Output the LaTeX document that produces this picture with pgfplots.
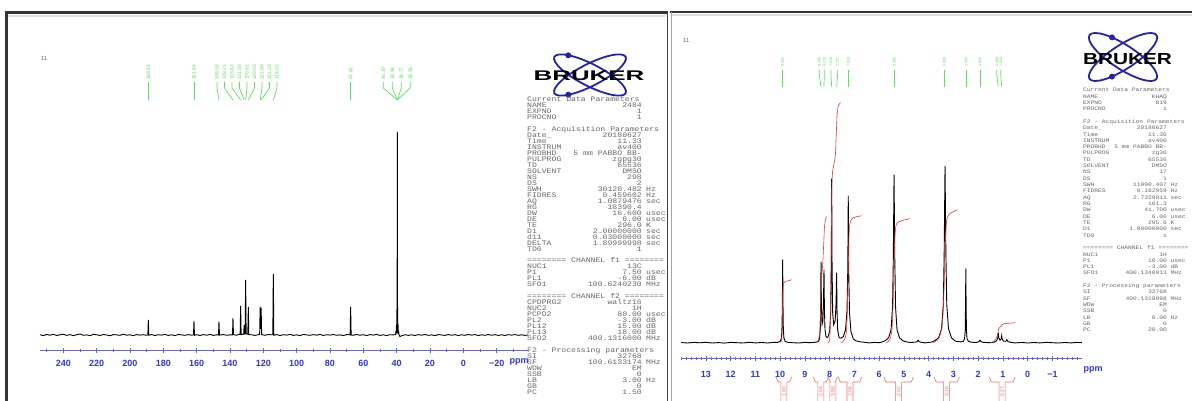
\documentclass[border=0pt]{standalone}
\usepackage{fontspec}
\setmainfont{Liberation Sans}
\newfontfamily\pmono{Liberation Mono}[FakeStretch=1.18]
\usepackage{graphicx}
\usepackage{pgfplots}
\pgfplotsset{compat=1.18}
\definecolor{axblue}{RGB}{95,100,235}
\definecolor{tkblue}{RGB}{45,55,230}
\definecolor{lgreen}{RGB}{95,225,95}
\definecolor{intred}{RGB}{235,55,55}
\definecolor{lblred}{RGB}{250,105,105}
\definecolor{logoblue}{RGB}{35,35,175}
\definecolor{ptext}{RGB}{105,105,105}
\pgfplotsset{nmr/.style={scale only axis, clip=false, axis x line=bottom, axis y line=none,
  x dir=reverse, x axis line style={-, draw=axblue, line width=0.7pt},
  tick style={draw=axblue, line width=0.5pt}, tick align=center,
  major tick length=5pt, minor tick length=3pt,
  xticklabel style={font=\fontsize{9}{9}\selectfont\bfseries, text=tkblue, anchor=center},
  scaled x ticks=false}}
\tikzset{pl/.style={anchor=base west, inner sep=0pt}, pr/.style={anchor=base east, inner sep=0pt},
  glab/.style={rotate=90, anchor=west, inner sep=0pt, text=lgreen}}
\newcommand\Lp[4]{\node[pl] at (527,{102+#1*5.96}) {#2};\node[pr] at (642,{102+#1*5.96}) {#3};\node[pl] at (646,{102+#1*5.96}) {#4};}
\newcommand\Lh[2]{\node[pl] at (527,{102+#1*5.96}) {#2};}
\newcommand\Rp[4]{\node[pl] at (1083,{91.8+#1*6.316}) {#2};\node[pr] at (1167,{91.8+#1*6.316}) {#3};\node[pl] at (1170.5,{91.8+#1*6.316}) {#4};}
\newcommand\Rh[2]{\node[pl] at (1083,{91.8+#1*6.316}) {#2};}
\newcommand\ibr[3]{%
  \pgfmathsetmacro\xc{(#1+#2)/2}%
  \draw[lblred, line width=0.6pt] (#1,377) -- (#1+2,382) -- (\xc-3,382) -- (\xc-3,401);
  \draw[lblred, line width=0.6pt] (#2,377) -- (#2-2,382) -- (\xc+3,382) -- (\xc+3,401);
  \node[rotate=90, text=lblred, font=\fontsize{5}{5}\selectfont, inner sep=0pt] at (\xc,392) {#3};}
\begin{document}
\begin{tikzpicture}[x=1pt,y=1pt]
\path[use as bounding box, fill=white] (0,0) rectangle (1192,-401);

% ---------------- left spectrum (13C) ----------------
\begin{axis}[nmr, at={(40pt,-350pt)}, anchor=south west, width=488.3pt, height=310pt,
  xmin=-39, xmax=254, ymin=-15, ymax=295,
  xtick={-20,0,...,240}, xticklabels={−20,0,20,40,60,80,100,120,140,160,180,200,220,240},
  minor xtick={-30,-10,...,250}, xticklabel style={yshift=-11pt}]
\addplot[black, line width=0.9pt] coordinates {
(254,0.3)(252,-0.6)(250,0.5)(248,-0.2)(246,0.7)(244,-0.5)(242,0.2)(240,0.8)(238,-0.4)(236,0.4)
(234,-0.7)(232,0.3)(230,0.9)(228,-0.2)(226,0.1)(224,-0.6)(222,0.6)(220,0.2)(218,-0.5)(216,0.5)
(214,0.0)(212,-0.7)(210,0.4)(208,0.1)(206,-0.3)(204,0.8)(202,-0.2)(200,0.2)(198,-0.6)(196,0.4)
(194,-0.1)(192,0.3)(190.5,-0.2)(189.3,0.1)(189.0,15)(188.7,-0.2)(187,0.4)(185,-0.5)(183,0.3)
(181,-0.1)(179,0.6)(177,-0.4)(175,0.2)(173,-0.6)(171,0.5)(169,0.1)(167,-0.3)(165,0.4)(163,-0.2)
(161.9,0.2)(161.6,14)(161.3,-0.3)(160,0.3)(158,-0.5)(156,0.4)(154,-0.2)(152,0.6)(150,-0.4)(148,0.2)
(146.9,0)(146.6,13.5)(146.3,-0.2)(144,0.5)(142,-0.3)(140,0.2)(138.5,0.1)(138.2,17)(137.9,0.3)
(136,-0.2)(134.5,0.6)(133.9,0.5)(133.6,29)(133.3,0.4)(131.8,0.8)(131.5,10)(131.2,1)(130.9,1)
(130.6,55)(130.3,1)(129.3,0.8)(129.0,28)(128.7,0.4)(127,0.2)(125,-0.4)(123,0.3)(122.2,0.5)
(121.9,28)(121.6,6)(121.3,27)(121.0,0.4)(119,-0.3)(117,0.5)(115,0.2)(114.3,0.3)(114.0,61)
(113.7,-0.2)(112,0.4)(110,-0.5)(108,0.3)(106,-0.1)(104,0.6)(102,-0.4)(100,0.2)(98,-0.6)(96,0.5)
(94,0.1)(92,-0.3)(90,0.4)(88,-0.2)(86,0.6)(84,-0.5)(82,0.3)(80,-0.1)(78,0.5)(76,-0.3)(74,0.2)
(72,-0.6)(70,0.4)(68,0.1)(67.9,0.2)(67.6,28)(67.3,0)(66,-0.3)(64,0.5)(62,-0.2)(60,0.3)(58,-0.5)
(56,0.4)(54,-0.1)(52,0.6)(50,-0.4)(48,0.2)(46,-0.6)(44,0.3)(42,0.1)(41,0.4)(40.6,0.5)(40.4,4)
(40.25,1)(40.1,10)(39.95,2)(39.8,28)(39.7,5)(39.6,203)(39.5,5)(39.4,28)(39.25,2)(39.1,10)
(38.95,1)(38.8,4)(38.6,0.5)(38,-1.5)(37,-0.8)(35,0.3)(33,-0.4)(31,0.2)(29,-0.5)(27,0.4)(25,-0.2)
(23,0.5)(21,-0.3)(19,0.1)(17,-0.6)(15,0.4)(13,0)(11,-0.4)(9,0.5)(7,-0.2)(5,0.3)(3,-0.5)(1,0.2)
(-1,-0.3)(-3,0.5)(-5,-0.1)(-7,0.4)(-9,-0.5)(-11,0.2)(-13,-0.3)(-15,0.5)(-17,-0.2)(-19,0.3)
(-21,-0.4)(-23,0.2)(-25,-0.5)(-27,0.3)(-29,-0.1)(-31,0.4)(-33,-0.3)(-35,0.2)(-37,-0.4)(-39,0.1)};
% peak label leaders
\addplot[lgreen, line width=0.7pt] coordinates {(189.0,253)(189.0,235)};
\addplot[lgreen, line width=0.7pt] coordinates {(161.6,253)(161.6,235)};
\addplot[lgreen, line width=0.7pt] coordinates {(67.6,253)(67.6,235)};
\addplot[lgreen, line width=0.7pt] coordinates {(147.8,253)(147.8,247)(146.6,235)};
\addplot[lgreen, line width=0.7pt] coordinates {(143.3,253)(143.3,247)(138.2,235)};
\addplot[lgreen, line width=0.7pt] coordinates {(138.8,253)(138.8,247)(133.6,235)};
\addplot[lgreen, line width=0.7pt] coordinates {(134.3,253)(134.3,247)(131.5,235)};
\addplot[lgreen, line width=0.7pt] coordinates {(129.8,253)(129.8,247)(130.6,235)};
\addplot[lgreen, line width=0.7pt] coordinates {(125.3,253)(125.3,247)(129.0,235)};
\addplot[lgreen, line width=0.7pt] coordinates {(120.8,253)(120.8,247)(121.9,235)};
\addplot[lgreen, line width=0.7pt] coordinates {(116.3,253)(116.3,247)(121.3,235)};
\addplot[lgreen, line width=0.7pt] coordinates {(111.8,253)(111.8,247)(114.0,235)};
\addplot[lgreen, line width=0.7pt] coordinates {(48.0,253)(48.0,247)(39.6,235)};
\addplot[lgreen, line width=0.7pt] coordinates {(42.6,253)(42.6,247)(39.6,235)};
\addplot[lgreen, line width=0.7pt] coordinates {(37.2,253)(37.2,247)(39.6,235)};
\addplot[lgreen, line width=0.7pt] coordinates {(31.8,253)(31.8,247)(39.6,235)};
\begin{scope}[every node/.append style={font=\fontsize{5}{5}\selectfont}]
\node[glab] at (axis cs:189.0,255) {189.01};
\node[glab] at (axis cs:161.6,255) {161.64};
\node[glab] at (axis cs:147.8,255) {146.58};
\node[glab] at (axis cs:143.3,255) {138.21};
\node[glab] at (axis cs:138.8,255) {133.62};
\node[glab] at (axis cs:134.3,255) {131.50};
\node[glab] at (axis cs:129.8,255) {130.61};
\node[glab] at (axis cs:125.3,255) {129.03};
\node[glab] at (axis cs:120.8,255) {121.90};
\node[glab] at (axis cs:116.3,255) {121.33};
\node[glab] at (axis cs:111.8,255) {114.02};
\node[glab] at (axis cs:67.6,255) {67.62};
\node[glab] at (axis cs:48.0,255) {40.19};
\node[glab] at (axis cs:42.6,255) {39.98};
\node[glab] at (axis cs:37.2,255) {39.77};
\node[glab] at (axis cs:31.8,255) {39.56};
\end{scope}
\end{axis}

% ---------------- right spectrum (1H) ----------------
\begin{axis}[nmr, at={(681.2pt,-358pt)}, anchor=south west, width=400.7pt, height=315.3pt,
  xmin=-2.19, xmax=14, ymin=-15.3, ymax=300,
  xtick={-1,0,...,13}, xticklabels={−1,0,1,2,3,4,5,6,7,8,9,10,11,12,13},
  minor xtick={-2,-1.8,...,14}, xticklabel style={yshift=-13.7pt}]
\addplot[black, line width=0.9pt] coordinates {
(14.0,0.2)(13.75,-0.3)(13.5,0.3)(13.25,-0.1)(13.0,0.4)(12.75,-0.3)(12.5,0.1)(12.25,-0.4)(12.0,0.3)
(11.75,0)(11.5,-0.3)(11.25,0.4)(11.0,-0.2)(10.75,0.2)(10.5,-0.3)(10.3,0.3)(10.10,0.4)(10.00,1.3)
(9.948,4.9)(9.924,16.6)(9.912,41.5)(9.90,83)(9.888,41.5)(9.876,16.6)(9.852,4.9)(9.80,1.3)(9.70,0.4)
(9.5,0)(9.25,-0.3)(9.0,0.3)(8.8,0)(8.60,0.4)(8.50,0.8)(8.45,1.5)(8.41,4)(8.38,13)(8.365,35)
(8.35,81)(8.335,38)(8.31,18)(8.28,20)(8.255,36)(8.23,73)(8.215,36)(8.19,13)(8.15,6)(8.10,5)
(8.05,7)(8.00,12)(7.96,30)(7.935,80)(7.92,164)(7.905,80)(7.88,30)(7.84,18)(7.78,22)(7.745,38)
(7.72,70)(7.705,34)(7.68,13)(7.62,5)(7.55,4.5)(7.45,6)(7.36,13)(7.30,32)(7.268,75)(7.25,147)
(7.232,72)(7.20,30)(7.14,11)(7.05,4)(6.95,2)(6.80,1)(6.6,0.4)(6.4,-0.2)(6.2,0.3)(6.0,0)
(5.90,0.6)(5.75,2)(5.62,5)(5.52,13)(5.46,36)(5.43,84)(5.40,168)(5.37,84)(5.34,36)(5.28,13)
(5.18,5)(5.05,2)(4.90,0.8)(4.75,0.2)(4.55,0.5)(4.47,1)(4.43,2.5)(4.39,1)(4.30,0.4)(4.15,-0.2)
(4.0,0.3)(3.90,0.5)(3.75,2)(3.60,5)(3.48,14)(3.41,38)(3.375,88)(3.34,177)(3.305,88)(3.27,38)
(3.20,14)(3.08,5)(2.95,2)(2.85,1.2)(2.70,0.8)(2.60,1.5)(2.55,4)(2.525,12)(2.512,37)(2.50,74)
(2.488,37)(2.475,12)(2.45,4)(2.40,1.5)(2.30,0.6)(2.15,0.2)(2.05,0.4)(1.97,1)(1.93,2.5)(1.89,1)
(1.80,0.4)(1.6,0)(1.45,0.3)(1.35,0.5)(1.25,2)(1.21,5)(1.19,10)(1.17,5)(1.12,2.5)(1.07,4)(1.05,7)
(1.03,3.5)(0.97,1.5)(0.88,1.5)(0.84,3)(0.80,1.2)(0.70,0.4)(0.5,-0.2)(0.25,0.3)(0,-0.3)(-0.25,0.2)
(-0.5,-0.2)(-0.75,0.3)(-1.0,0)(-1.25,-0.3)(-1.5,0.2)(-1.75,-0.2)(-2.0,0.3)(-2.19,0)};
% integrals
\addplot[intred, line width=0.6pt, smooth, tension=0.4] coordinates {(9.98,0.3)(9.94,3)(9.92,15)(9.905,35)(9.895,50)(9.88,57)(9.85,60)(9.78,61.5)(9.65,62)(9.54,63)};
\addplot[intred, line width=0.6pt, smooth, tension=0.4] coordinates {(8.55,0)(8.45,3)(8.39,15)(8.36,40)(8.33,62)(8.28,80)(8.24,100)(8.21,116)(8.17,123)(8.12,126)};
\addplot[intred, line width=0.6pt, smooth, tension=0.4] coordinates {(8.06,0)(8.00,4)(7.96,30)(7.935,100)(7.915,155)(7.88,172)(7.83,178)(7.77,188)(7.74,205)(7.70,228)(7.65,237)(7.56,240)};
\addplot[intred, line width=0.6pt, smooth, tension=0.4] coordinates {(7.52,0)(7.40,3)(7.32,12)(7.28,40)(7.25,72)(7.225,102)(7.20,116)(7.15,122)(7.05,125)(6.90,126)(6.71,127)};
\addplot[intred, line width=0.6pt, smooth, tension=0.4] coordinates {(5.70,0)(5.55,4)(5.47,18)(5.43,48)(5.40,82)(5.37,106)(5.33,116)(5.27,120)(5.10,122)(4.76,124)};
\addplot[intred, line width=0.6pt, smooth, tension=0.4] coordinates {(3.81,0)(3.60,4)(3.45,18)(3.38,55)(3.34,92)(3.30,116)(3.25,125)(3.15,129)(3.00,131)(2.84,133)};
\addplot[intred, line width=0.6pt, smooth, tension=0.4] coordinates {(1.52,-0.5)(1.40,1)(1.28,4)(1.21,9)(1.17,14)(1.10,16)(1.04,18)(0.95,19)(0.75,19.5)(0.51,20)};
% peak label leaders
\addplot[lgreen, line width=0.7pt] coordinates {(9.90,273)(9.90,256)};
\addplot[lgreen, line width=0.7pt] coordinates {(8.42,273)(8.42,268)(8.35,256)};
\addplot[lgreen, line width=0.7pt] coordinates {(8.22,273)(8.22,268)(8.23,256)};
\addplot[lgreen, line width=0.7pt] coordinates {(7.95,273)(7.95,268)(7.92,256)};
\addplot[lgreen, line width=0.7pt] coordinates {(7.68,273)(7.68,268)(7.72,256)};
\addplot[lgreen, line width=0.7pt] coordinates {(7.25,273)(7.25,256)};
\addplot[lgreen, line width=0.7pt] coordinates {(5.39,273)(5.39,256)};
\addplot[lgreen, line width=0.7pt] coordinates {(3.37,273)(3.37,256)};
\addplot[lgreen, line width=0.7pt] coordinates {(2.49,273)(2.49,256)};
\addplot[lgreen, line width=0.7pt] coordinates {(1.93,273)(1.93,256)};
\addplot[lgreen, line width=0.7pt] coordinates {(1.25,273)(1.25,268)(1.19,256)};
\addplot[lgreen, line width=0.7pt] coordinates {(1.09,273)(1.09,268)(1.05,256)};
\begin{scope}[every node/.append style={font=\fontsize{3.8}{3.8}\selectfont}]
\node[glab] at (axis cs:9.90,276) {9.902};
\node[glab] at (axis cs:8.42,276) {8.349};
\node[glab] at (axis cs:8.22,276) {8.228};
\node[glab] at (axis cs:7.95,276) {7.918};
\node[glab] at (axis cs:7.68,276) {7.721};
\node[glab] at (axis cs:7.25,276) {7.250};
\node[glab] at (axis cs:5.39,276) {5.396};
\node[glab] at (axis cs:3.37,276) {3.338};
\node[glab] at (axis cs:2.49,276) {2.500};
\node[glab] at (axis cs:1.93,276) {1.931};
\node[glab] at (axis cs:1.25,276) {1.188};
\node[glab] at (axis cs:1.09,276) {1.050};
\end{scope}
\end{axis}

% ---------------- decorations in image coordinates ----------------
\begin{scope}[y=-1pt]
% frames
\draw[black!80, line width=2.6pt] (5,12.5) -- (667,12.5);
\draw[black!12, line width=1.6pt] (8,15.8) -- (666,15.8);
\draw[black!80, line width=2.2pt] (6.5,11.5) -- (6.5,401);
\draw[black!75, line width=1pt] (667,11.5) -- (667,401);
\draw[black!80, line width=2.6pt] (670,12) -- (1192,12);
\draw[black!12, line width=1.6pt] (672,15.3) -- (1192,15.3);
\draw[black!35, line width=1pt] (671.5,12) -- (671.5,401);
% panel numbers
\node[text=ptext, font=\fontsize{6}{6}\selectfont] at (44,58) {11};
\node[text=ptext, font=\fontsize{6}{6}\selectfont] at (686,40) {11};
% ppm labels
\node[text=tkblue, font=\fontsize{9}{9}\selectfont\bfseries] at (519,362) {ppm};
\node[text=tkblue, font=\fontsize{9}{9}\selectfont\bfseries] at (1093,370.5) {ppm};
% integration brackets
\ibr{776}{791.7}{1.00}
\ibr{813.3}{828.3}{2.04}
\ibr{828.3}{837.3}{3.98}
\ibr{838.3}{861.7}{2.06}
\ibr{884}{913.3}{2.02}
\ibr{934}{959.3}{3.16}
\ibr{989.3}{1015}{0.27}
% logos
\draw[logoblue, line width=1.8pt, rotate around={27:(590,75)}] (590,75) ellipse [x radius=40pt, y radius=11pt];
\draw[logoblue, line width=1.8pt, rotate around={-27:(590,75)}] (590,75) ellipse [x radius=40pt, y radius=11pt];
\fill[logoblue] (568.3,55.3) circle (3pt) (568.3,94.7) circle (3pt);
\node[inner sep=0pt, font=\fontsize{14}{14}\selectfont\bfseries] at (589,75.5) {\scalebox{1.85}[1]{BRUKER}};
\draw[logoblue, line width=1.8pt, rotate around={33:(1123,57)}] (1123,57) ellipse [x radius=40pt, y radius=12pt];
\draw[logoblue, line width=1.8pt, rotate around={-33:(1123,57)}] (1123,57) ellipse [x radius=40pt, y radius=12pt];
\fill[logoblue] (1112,37.4) circle (3pt) (1112,76.6) circle (3pt);
\node[inner sep=0pt, font=\fontsize{16}{16}\selectfont\bfseries] at (1127.5,59.5) {\scalebox{1.3}[1]{BRUKER}};
% left parameter block
\begin{scope}[every node/.append style={font=\pmono\fontsize{6.9}{6.9}\selectfont, text=ptext}]
\Lh{0}{Current Data Parameters}
\Lp{1}{NAME}{2484}{}
\Lp{2}{EXPNO}{1}{}
\Lp{3}{PROCNO}{1}{}
\Lh{5}{F2 - Acquisition Parameters}
\Lp{6}{Date\_}{20180627}{}
\Lp{7}{Time}{11.33}{}
\Lp{8}{INSTRUM}{av400}{}
\Lp{9}{PROBHD}{5 mm PABBO BB-}{}
\Lp{10}{PULPROG}{zgpg30}{}
\Lp{11}{TD}{65536}{}
\Lp{12}{SOLVENT}{DMSO}{}
\Lp{13}{NS}{298}{}
\Lp{14}{DS}{2}{}
\Lp{15}{SWH}{30120.482}{Hz}
\Lp{16}{FIDRES}{0.459602}{Hz}
\Lp{17}{AQ}{1.0879476}{sec}
\Lp{18}{RG}{18390.4}{}
\Lp{19}{DW}{16.600}{usec}
\Lp{20}{DE}{6.00}{usec}
\Lp{21}{TE}{296.0}{K}
\Lp{22}{D1}{2.00000000}{sec}
\Lp{23}{d11}{0.03000000}{sec}
\Lp{24}{DELTA}{1.89999998}{sec}
\Lp{25}{TD0}{1}{}
\Lh{27}{======== CHANNEL f1 ========}
\Lp{28}{NUC1}{13C}{}
\Lp{29}{P1}{7.50}{usec}
\Lp{30}{PL1}{-6.00}{dB}
\Lp{31}{SFO1}{100.6240230}{MHz}
\Lh{33}{======== CHANNEL f2 ========}
\Lp{34}{CPDPRG2}{waltz16}{}
\Lp{35}{NUC2}{1H}{}
\Lp{36}{PCPD2}{80.00}{usec}
\Lp{37}{PL2}{-3.00}{dB}
\Lp{38}{PL12}{15.00}{dB}
\Lp{39}{PL13}{18.00}{dB}
\Lp{40}{SFO2}{400.1316000}{MHz}
\Lh{42}{F2 - Processing parameters}
\Lp{43}{SI}{32768}{}
\Lp{44}{SF}{100.6133174}{MHz}
\Lp{45}{WDW}{EM}{}
\Lp{46}{SSB}{0}{}
\Lp{47}{LB}{3.00}{Hz}
\Lp{48}{GB}{0}{}
\Lp{49}{PC}{1.50}{}
\end{scope}
% right parameter block
\begin{scope}[every node/.append style={font=\pmono\fontsize{5.3}{5.3}\selectfont, text=ptext}]
\Rh{0}{Current Data Parameters}
\Rp{1}{NAME}{KHAQ}{}
\Rp{2}{EXPNO}{819}{}
\Rp{3}{PROCNO}{1}{}
\Rh{5}{F2 - Acquisition Parameters}
\Rp{6}{Date\_}{20180627}{}
\Rp{7}{Time}{11.30}{}
\Rp{8}{INSTRUM}{av400}{}
\Rp{9}{PROBHD}{5 mm PABBO BB-}{}
\Rp{10}{PULPROG}{zg30}{}
\Rp{11}{TD}{65536}{}
\Rp{12}{SOLVENT}{DMSO}{}
\Rp{13}{NS}{17}{}
\Rp{14}{DS}{1}{}
\Rp{15}{SWH}{11990.407}{Hz}
\Rp{16}{FIDRES}{0.182959}{Hz}
\Rp{17}{AQ}{2.7329011}{sec}
\Rp{18}{RG}{161.3}{}
\Rp{19}{DW}{41.700}{usec}
\Rp{20}{DE}{6.00}{usec}
\Rp{21}{TE}{295.6}{K}
\Rp{22}{D1}{1.00000000}{sec}
\Rp{23}{TD0}{1}{}
\Rh{25}{======== CHANNEL f1 ========}
\Rp{26}{NUC1}{1H}{}
\Rp{27}{P1}{10.00}{usec}
\Rp{28}{PL1}{-3.00}{dB}
\Rp{29}{SFO1}{400.1340013}{MHz}
\Rh{31}{F2 - Processing parameters}
\Rp{32}{SI}{32768}{}
\Rp{33}{SF}{400.1318998}{MHz}
\Rp{34}{WDW}{EM}{}
\Rp{35}{SSB}{0}{}
\Rp{36}{LB}{0.00}{Hz}
\Rp{37}{GB}{0}{}
\Rp{38}{PC}{20.00}{}
\end{scope}
\end{scope}
\end{tikzpicture}
\end{document}
